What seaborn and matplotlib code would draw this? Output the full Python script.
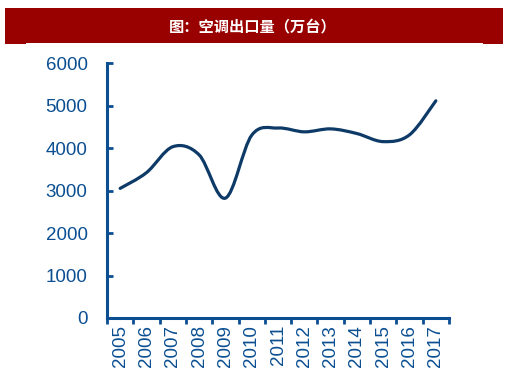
import numpy as np
import pandas as pd
import matplotlib
matplotlib.use("Agg")
import matplotlib.pyplot as plt
from matplotlib.path import Path
from matplotlib.patches import PathPatch, Rectangle
import seaborn as sns

years = ["2005", "2006", "2007", "2008", "2009", "2010", "2011",
         "2012", "2013", "2014", "2015", "2016", "2017"]
exports = [3050, 3420, 4030, 3840, 2820, 4300, 4470,
           4380, 4450, 4340, 4150, 4310, 5110]
yticks = [0, 1000, 2000, 3000, 4000, 5000, 6000]
title = "图：空调出口量（万台）"

sns.set_theme(style="white")
plt.rcParams["font.family"] = ["Liberation Sans", "DejaVu Sans"]

axis_blue = "#0B4F92"
line_navy = "#0E3A68"
banner_red = "#990000"

fig = plt.figure(figsize=(5.12, 3.70), dpi=100)
ax = fig.add_axes([107 / 512, 52 / 370, 342 / 512, 255 / 370])

df = pd.DataFrame({"x": np.arange(len(years)), "y": exports})
sns.lineplot(data=df, x="x", y="y", ax=ax, color=line_navy, linewidth=2.3)

# smooth the line (Excel-style cardinal spline via Bezier segments in data coords)
line = ax.lines[0]
line.set_visible(False)
xs = df["x"].to_numpy(dtype=float)
ys = df["y"].to_numpy(dtype=float)
pts = np.column_stack([xs, ys])
verts = [tuple(pts[0])]
codes = [Path.MOVETO]
n = len(pts)
for i in range(n - 1):
    p0 = pts[i - 1] if i > 0 else pts[i]
    p1 = pts[i]
    p2 = pts[i + 1]
    p3 = pts[i + 2] if i + 2 < n else pts[i + 1]
    c1 = p1 + (p2 - p0) / 6.0
    c2 = p2 - (p3 - p1) / 6.0
    verts += [tuple(c1), tuple(c2), tuple(p2)]
    codes += [Path.CURVE4, Path.CURVE4, Path.CURVE4]
ax.add_patch(PathPatch(Path(verts, codes), facecolor="none", edgecolor=line_navy,
                       linewidth=2.3, capstyle="round", joinstyle="round",
                       transform=ax.transData))

ax.set_xlim(-0.5, len(years) - 0.5)
ax.set_ylim(0, 6000)
ax.set_xlabel("")
ax.set_ylabel("")

ax.set_yticks(yticks)
ax.set_yticklabels([str(v) for v in yticks])
ax.set_xticks(np.arange(len(years)))
ax.set_xticklabels(years, rotation=90)
ax.set_xticks(np.arange(len(years) + 1) - 0.5, minor=True)

ax.tick_params(axis="y", which="major", direction="in", length=4, width=2,
               color=axis_blue, labelcolor=axis_blue, labelsize=13.5, pad=14,
               left=True)
ax.tick_params(axis="x", which="major", length=0, labelcolor=axis_blue,
               labelsize=13.5, pad=5)
ax.tick_params(axis="x", which="minor", direction="out", length=4, width=2,
               color=axis_blue, bottom=True)

for side in ["top", "right"]:
    ax.spines[side].set_visible(False)
for side in ["left", "bottom"]:
    ax.spines[side].set_visible(True)
    ax.spines[side].set_color(axis_blue)
    ax.spines[side].set_linewidth(2.2)
ax.grid(False)
ax.set_facecolor("white")

# title banner
fig.patches.append(Rectangle((5 / 512, 1 - 44 / 370), 498 / 512, 36 / 370,
                             transform=fig.transFigure, facecolor=banner_red,
                             edgecolor="none", zorder=0))
fig.patches.append(Rectangle((26 / 512, 1 - 44 / 370), 457 / 512, 1.2 / 370,
                             transform=fig.transFigure, facecolor="white",
                             edgecolor="none", zorder=1))
fig.text(253 / 512, 1 - 26.5 / 370, title, color="white", fontsize=11,
         fontweight="bold", ha="center", va="center",
         family=["Noto Sans CJK SC", "DejaVu Sans"])

fig.savefig("out.png", dpi=100, facecolor="white")
